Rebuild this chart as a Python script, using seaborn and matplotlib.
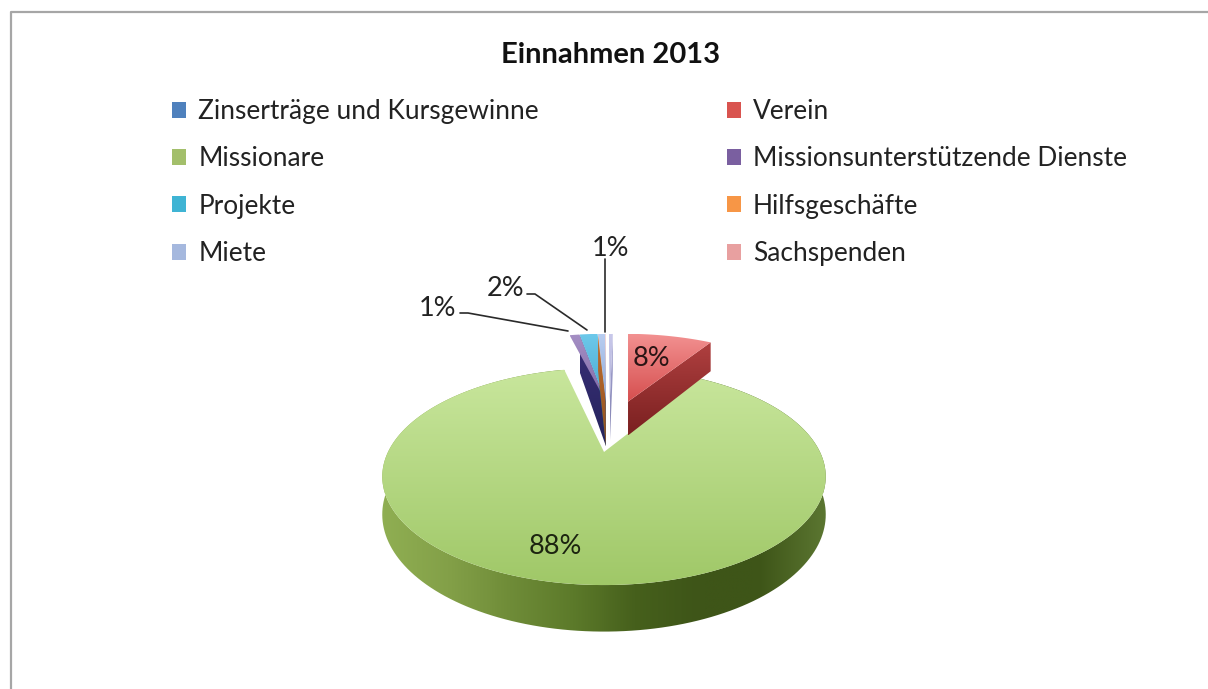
import numpy as np
import matplotlib
matplotlib.use("Agg")
import matplotlib.pyplot as plt
from matplotlib.patches import Patch, Polygon
import seaborn as sns

# Einnahmen 2013, clockwise from the top of the pie
categories = ['Zinserträge und Kursgewinne', 'Verein', 'Missionare',
              'Missionsunterstützende Dienste', 'Projekte', 'Hilfsgeschäfte',
              'Miete', 'Sachspenden']
values = [0.4, 8.4, 87.6, 1.0, 1.8, 0.05, 0.7, 0.05]
title = 'Einnahmen 2013'

legend_colors = ['#4f81bd', '#d9544f', '#a3bf6b', '#7a5fa0',
                 '#3fb4d4', '#f79646', '#a5b8de', '#e8a0a0']
top_colors = [('#c8c8ea', '#b0b0d8'), ('#f29090', '#d64f4f'), ('#c8e69c', '#a0c868'),
              ('#a58fc4', '#7f6aa8'), ('#6cc8ea', '#48a8d0'), ('#f9b070', '#f79646'),
              ('#b8cdf0', '#8fa8d8'), ('#f0b8b8', '#e8a0a0')]
side_colors = [('#a8a8d4', '#8080b0'), ('#b04040', '#7a2020'), None,
               ('#3a2f78', '#25245c'), ('#2a7f9a', '#1f5f78'), ('#c07030', '#905020'),
               ('#7f90b8', '#3f4a60'), ('#c08080', '#906060')]
# pull-out of each slice on the unit disc
pull = [(0.03, 0.55), (0.125, 0.55), (0, 0), (0.01, 0.55),
        (0.01, 0.55), (0.01, 0.55), (0.01, 0.55), (0.01, 0.55)]
# wall height of each slice, in pixels at the disc centre
depth = [50, 38, 36, 50, 50, 50, 50, 50]

# fake perspective of the tilted disc, in pixels
CX, CY, BX, BY, K = 604, 452, 216, 103, 0.226


def project(x, y, drop=0):
    x, y = np.asarray(x), np.asarray(y)
    s = 1 / (1 + K * y)
    return np.column_stack([CX + BX * x * s, CY - BY * y * s + drop * s])


def fill_gradient(ax, poly, colors, vertical=True, z=2):
    grad = np.array(sns.blend_palette(colors, 64))
    img = grad[:, None, :] if vertical else grad[None, :, :]
    x0, y0 = poly.min(axis=0)
    x1, y1 = poly.max(axis=0)
    im = ax.imshow(img, extent=(x0, x1, y1, y0), aspect='auto', zorder=z, interpolation='bilinear')
    clip = Polygon(poly, closed=True, transform=ax.transData, fc='none', ec='none')
    ax.add_patch(clip)
    im.set_clip_path(clip)


sns.set_theme(style="white")
plt.rcParams['font.family'] = ['Lato', 'DejaVu Sans']

fig = plt.figure(figsize=(12.08, 6.89), dpi=100)
ax = fig.add_axes([0, 0, 1, 1])

# the pie only supplies the slice angles, the tilt is applied afterwards
wedges, _ = ax.pie(values, startangle=90, counterclock=False, radius=1)
slices = [(w.theta1, w.theta2) for w in wedges]
for w in wedges:
    w.remove()

order = [2, 3, 4, 5, 6, 7, 0, 1]
for z, i in enumerate(order):
    t1, t2 = slices[i]
    dx, dy = pull[i]
    ang = np.radians(np.linspace(t1, t2, 200))
    ax_, ay_ = np.cos(ang) + dx, np.sin(ang) + dy
    base = 3 + z * 3
    top = np.vstack([project(dx, dy), project(ax_, ay_)])
    if i == 2:
        # outer wall of the big slice
        wall = np.vstack([project(ax_, ay_), project(ax_, ay_, drop=depth[i])[::-1]])
        fill_gradient(ax, wall, ['#8fae52', '#83a048', '#6f8c38', '#5c7a2a', '#46601c', '#3e5518', '#3e5518', '#5a7530'],
                      vertical=False, z=base)
    else:
        # cut face on the outer side of the pulled slice
        e = t2 if t2 > 90 else t1
        ex, ey = np.cos(np.radians(e)) + dx, np.sin(np.radians(e)) + dy
        face = np.vstack([project(dx, dy), project(ex, ey), project(ex, ey, drop=depth[i]),
                          project(dx, dy, drop=depth[i])])
        fill_gradient(ax, face, side_colors[i], z=base)
    fill_gradient(ax, top, top_colors[i], z=base + 1)

# data labels
labels = [f'{v:.0f}%' for v in values]
label_font = 19.5
ax.text(651, 359, labels[1], ha='center', va='center', fontsize=label_font, color='#2a1515', zorder=50)
ax.text(555, 547, labels[2], ha='center', va='center', fontsize=label_font, color='#1c2410', zorder=50)
ax.text(438, 309, labels[3], ha='center', va='center', fontsize=label_font, color='#222222', zorder=50)
ax.text(506, 289, labels[4], ha='center', va='center', fontsize=label_font, color='#222222', zorder=50)
ax.text(611, 249, labels[6], ha='center', va='center', fontsize=label_font, color='#222222', zorder=50)

# leader lines
ax.plot([460, 468, 568], [313, 313, 331], color='#2a2a2a', lw=1.2, zorder=49)
ax.plot([527, 535, 587], [294, 294, 330], color='#2a2a2a', lw=1.2, zorder=49)
ax.plot([605, 605], [259, 332], color='#2a2a2a', lw=1.2, zorder=49)

# chart frame runs off the right and bottom of the picture
ax.plot([11, 11, 1215], [700, 12, 12], color='#a6a6a6', lw=1.6, zorder=1)

ax.text(611, 55, title, ha='center', va='center', fontsize=21, fontweight='bold', color='#111111', zorder=50)

# legend fills column by column
col_order = [0, 2, 4, 6, 1, 3, 5, 7]
handles = [Patch(fc=legend_colors[i], ec='none', label=categories[i]) for i in col_order]
ax.legend(handles=handles, ncol=2, loc='upper left', bbox_to_anchor=(172, 99), bbox_transform=ax.transData,
          frameon=False, fontsize=18.9, labelcolor='#222222', handlelength=0.55, handleheight=0.55,
          handletextpad=0.45, borderpad=0, borderaxespad=0, labelspacing=0.85, columnspacing=7.15)

ax.set_xlim(0, 1208)
ax.set_ylim(689, 0)
ax.set_aspect('auto')
ax.axis('off')
fig.savefig('out.png', dpi=100, facecolor='white')
